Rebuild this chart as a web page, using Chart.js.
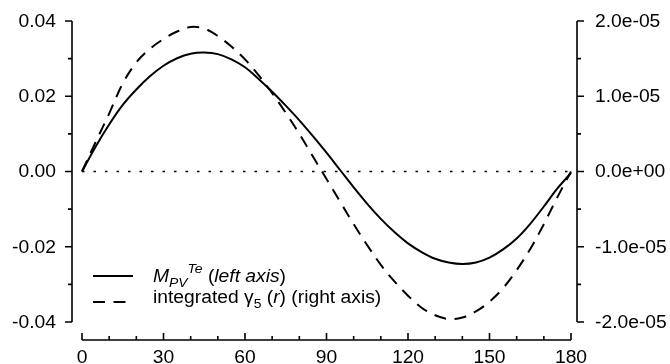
<!DOCTYPE html>
<html>
<head>
<meta charset="utf-8">
<script src="https://cdn.jsdelivr.net/npm/chart.js@4.4.1/dist/chart.umd.min.js"></script>
<style>
  html, body { margin: 0; padding: 0; background: #fff; }
</style>
</head>
<body>
<canvas id="grafico" width="670" height="364"></canvas>
<script>
// dados (angulo em graus)
const anguloX = [0, 5, 10, 15, 20, 25, 30, 35, 40, 45, 50, 55, 60, 65, 70, 75, 80, 85, 90,
                 95, 100, 105, 110, 115, 120, 125, 130, 135, 140, 145, 150, 155, 160, 165, 170, 175, 180];
// M_PV^Te (eixo esquerdo)
const mpvTe = [0, 0.0066, 0.0125, 0.0177, 0.0218, 0.0253, 0.0281, 0.0301, 0.0313, 0.0316, 0.0312,
               0.0298, 0.0277, 0.0246, 0.0212, 0.0175, 0.0136, 0.0094, 0.0050, 0.0004, -0.0042,
               -0.0086, -0.0126, -0.0161, -0.0191, -0.0214, -0.0232, -0.0242, -0.0246, -0.0242,
               -0.0229, -0.0207, -0.0178, -0.0139, -0.0093, -0.0045, -0.0004];
// integrated gamma5 (eixo direito)
const gama5 = [0, 0.39e-5, 0.77e-5, 1.17e-5, 1.45e-5, 1.63e-5, 1.76e-5, 1.86e-5, 1.92e-5, 1.90e-5,
               1.80e-5, 1.66e-5, 1.49e-5, 1.28e-5, 1.04e-5, 0.78e-5, 0.50e-5, 0.20e-5, -0.10e-5,
               -0.40e-5, -0.70e-5, -0.98e-5, -1.24e-5, -1.46e-5, -1.65e-5, -1.81e-5, -1.91e-5,
               -1.96e-5, -1.94e-5, -1.86e-5, -1.73e-5, -1.55e-5, -1.31e-5, -1.03e-5, -0.70e-5,
               -0.34e-5, 0];
const linhaZeroX = [0, 180];
const linhaZeroY = [0, 0];

const ticksX = [0, 30, 60, 90, 120, 150, 180];
const ticksXMenor = [10, 20, 40, 50, 70, 80, 100, 110, 130, 140, 160, 170];
const ticksEsq = [0.04, 0.02, 0, -0.02, -0.04];
const rotulosEsq = ['0.04', '0.02', '0.00', '-0.02', '-0.04'];
const ticksEsqMenor = [0.03, 0.01, -0.01, -0.03];
const ticksDir = [2e-5, 1e-5, 0, -1e-5, -2e-5];
const rotulosDir = ['2.0e-05', '1.0e-05', '0.0e+00', '-1.0e-05', '-2.0e-05'];
const ticksDirMenor = [1.5e-5, 0.5e-5, -0.5e-5, -1.5e-5];

const FONTE = '"Liberation Sans", Arial, sans-serif';
const ESTICA = 1.07;
const TRACO = [12, 8.5];

function texto(ctx, s, x, y, align) {
    ctx.save();
    ctx.translate(x, y);
    ctx.scale(ESTICA, 1);
    ctx.textAlign = align;
    ctx.fillText(s, 0, 0);
    ctx.restore();
}

// texto com sub/sobrescrito e italico
function textoRico(ctx, partes, x, y) {
    ctx.save();
    ctx.translate(x, y);
    ctx.scale(ESTICA, 1);
    ctx.textAlign = 'left';
    ctx.textBaseline = 'alphabetic';
    let px = 0;
    partes.forEach(p => {
        ctx.font = (p.it ? 'italic ' : '') + (p.tam || 18) + 'px ' + FONTE;
        ctx.fillText(p.t, px, p.dy || 0);
        px += ctx.measureText(p.t).width;
    });
    ctx.restore();
}

const eixosPlugin = {
    id: 'eixos',
    afterDraw(chart) {
        const ctx = chart.ctx;
        const a = chart.chartArea;
        const sx = chart.scales.x, sy = chart.scales.y, sy2 = chart.scales.y2;
        ctx.save();
        ctx.strokeStyle = '#000';
        ctx.fillStyle = '#000';
        ctx.lineWidth = 1.6;
        ctx.setLineDash([]);

        // eixo esquerdo
        const xe = a.left - 10;
        ctx.beginPath();
        ctx.moveTo(xe, sy.getPixelForValue(0.04));
        ctx.lineTo(xe, sy.getPixelForValue(-0.04));
        ticksEsq.forEach(v => { const p = sy.getPixelForValue(v); ctx.moveTo(xe - 7, p); ctx.lineTo(xe, p); });
        ticksEsqMenor.forEach(v => { const p = sy.getPixelForValue(v); ctx.moveTo(xe - 4, p); ctx.lineTo(xe, p); });
        ctx.stroke();

        // eixo direito
        const xd = a.right + 6;
        ctx.beginPath();
        ctx.moveTo(xd, sy2.getPixelForValue(2e-5));
        ctx.lineTo(xd, sy2.getPixelForValue(-2e-5));
        ticksDir.forEach(v => { const p = sy2.getPixelForValue(v); ctx.moveTo(xd, p); ctx.lineTo(xd + 7, p); });
        ticksDirMenor.forEach(v => { const p = sy2.getPixelForValue(v); ctx.moveTo(xd, p); ctx.lineTo(xd + 4, p); });
        ctx.stroke();

        // eixo x
        const yb = a.bottom + 18;
        ctx.beginPath();
        ctx.moveTo(sx.getPixelForValue(0), yb);
        ctx.lineTo(sx.getPixelForValue(180), yb);
        ticksX.forEach(v => { const p = sx.getPixelForValue(v); ctx.moveTo(p, yb); ctx.lineTo(p, yb - 7); });
        ticksXMenor.forEach(v => { const p = sx.getPixelForValue(v); ctx.moveTo(p, yb); ctx.lineTo(p, yb - 4); });
        ctx.stroke();

        // rotulos
        ctx.font = '18px ' + FONTE;
        ctx.textBaseline = 'middle';
        ticksEsq.forEach((v, i) => texto(ctx, rotulosEsq[i], xe - 16, sy.getPixelForValue(v) + 1, 'right'));
        ticksDir.forEach((v, i) => texto(ctx, rotulosDir[i], xd + 18, sy2.getPixelForValue(v) + 1, 'left'));
        ticksX.forEach(v => texto(ctx, String(v), sx.getPixelForValue(v), yb + 18, 'center'));

        // legenda
        ctx.lineWidth = 2;
        ctx.beginPath();
        ctx.moveTo(93, 276); ctx.lineTo(133, 276);
        ctx.stroke();
        ctx.setLineDash(TRACO);
        ctx.beginPath();
        ctx.moveTo(93, 302); ctx.lineTo(133, 302);
        ctx.stroke();
        ctx.setLineDash([]);

        textoRico(ctx, [
            { t: 'M', it: true },
            { t: 'PV', it: true, tam: 13, dy: 5 },
            { t: 'Te', it: true, tam: 13, dy: -9 },
            { t: ' (' },
            { t: 'left axis', it: true },
            { t: ')' }
        ], 153, 282);
        textoRico(ctx, [
            { t: 'integrated ' },
            { t: 'γ' },
            { t: '5', tam: 13, dy: 5 },
            { t: ' (' },
            { t: 'r', it: true },
            { t: ') (right axis)' }
        ], 153, 303);

        ctx.restore();
    }
};

const ctx = document.getElementById('grafico');
new Chart(ctx, {
    type: 'line',
    data: {
        datasets: [{
            data: anguloX.map((x, i) => ({ x: x, y: mpvTe[i] })),
            yAxisID: 'y',
            borderColor: '#000',
            borderWidth: 2,
            pointRadius: 0,
            tension: 0.35,
            clip: false
        }, {
            data: anguloX.map((x, i) => ({ x: x, y: gama5[i] })),
            yAxisID: 'y2',
            borderColor: '#000',
            borderWidth: 2,
            borderDash: TRACO,
            pointRadius: 0,
            tension: 0.35,
            clip: false
        }, {
            data: linhaZeroX.map((x, i) => ({ x: x, y: linhaZeroY[i] })),
            yAxisID: 'y',
            borderColor: '#000',
            borderWidth: 1.6,
            borderDash: [2.5, 9],
            pointRadius: 0,
            clip: false
        }]
    },
    options: {
        responsive: false,
        animation: false,
        layout: { padding: { left: 82, right: 99, top: 21, bottom: 42 } },
        plugins: { legend: { display: false }, tooltip: { enabled: false } },
        scales: {
            x: { type: 'linear', min: 0, max: 180, display: false },
            y: { min: -0.04, max: 0.04, display: false },
            y2: { min: -2e-5, max: 2e-5, display: false, position: 'right' }
        }
    },
    plugins: [eixosPlugin]
});
</script>
</body>
</html>
